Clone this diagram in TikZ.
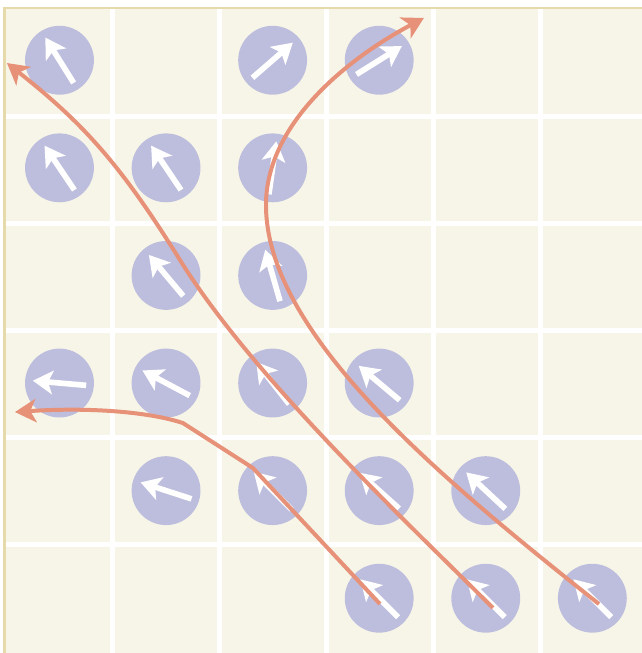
\documentclass[tikz,border=0pt]{standalone}
\usepackage{tikz}
\usetikzlibrary{arrows.meta}
\definecolor{Cream}{HTML}{F7F5E8}
\definecolor{Lavender}{HTML}{BDBEDD}
\definecolor{Sand}{HTML}{E6DAAA}
\definecolor{Salmon}{HTML}{E69178}

\begin{document}
\begin{tikzpicture}[x=1.6cm, y=1.6cm,
  spin/.style={circle, fill=Lavender, minimum size=1.03cm, inner sep=0pt},
  needle/.style={white, line width=2.4pt, -{Stealth[length=8.5pt, width=10pt, inset=2pt]}},
  flow/.style={Salmon, line width=1.7pt, -{Stealth[length=9pt, width=10pt, inset=2.5pt]}}
]
\clip (-0.042,0.075) rectangle (5.958,-6.028);
\fill[Cream] (0,0) rectangle (6.1,-6.1);
\foreach \i in {1,...,5} {
  \draw[white, line width=2.1pt] (\i+0.01,0) -- (\i+0.01,-6.1);
  \draw[white, line width=2.1pt] (0,-\i-0.016) -- (6.1,-\i-0.016);
}
\draw[Sand, line width=1pt] (0,-6.1) -- (0,0) -- (6.1,0);

\foreach \r/\c/\a in {0/0/122, 0/2/41, 0/3/32,
                      1/0/124, 1/1/124, 1/2/82,
                      2/1/130, 2/2/106,
                      3/0/175, 3/1/152, 3/2/128, 3/3/140,
                      4/1/162, 4/2/135, 4/3/138, 4/4/137,
                      5/3/135, 5/4/135, 5/5/135} {
  \node[spin] (s\r\c) at (0.514+0.996*\c,-0.488-1.0056*\r) {};
  \draw[needle] ([shift={(\a+180:0.25)}]s\r\c.center) -- ([shift={(\a:0.25)}]s\r\c.center);
}

\coordinate (a0) at (3.509,-5.570);
\coordinate (a1) at (2.322,-4.299);
\coordinate (a2) at (1.668,-3.879);
\coordinate (a3) at (0.098,-3.776);
\draw[flow] (a0) -- (a1) -- (a2) .. controls (1.360,-3.776) and (0.799,-3.729) .. (a3);

\coordinate (b0) at (4.565,-5.607);
\coordinate (b1) at (1.640,-2.355);
\coordinate (b2) at (0.023,-0.514);
\draw[flow] (b0) .. controls (3.771,-4.813) and (2.332,-3.467) .. (b1)
  .. controls (1.095,-1.481) and (0.757,-1.093) .. (b2);

\coordinate (k0) at (5.556,-5.570);
\coordinate (k1) at (2.444,-1.841);
\coordinate (k2) at (3.920,-0.093);
\draw[flow] (k0) .. controls (4.098,-4.411) and (2.444,-3.056) .. (k1)
  .. controls (2.444,-1.093) and (3.182,-0.486) .. (k2);
\end{tikzpicture}
\end{document}
